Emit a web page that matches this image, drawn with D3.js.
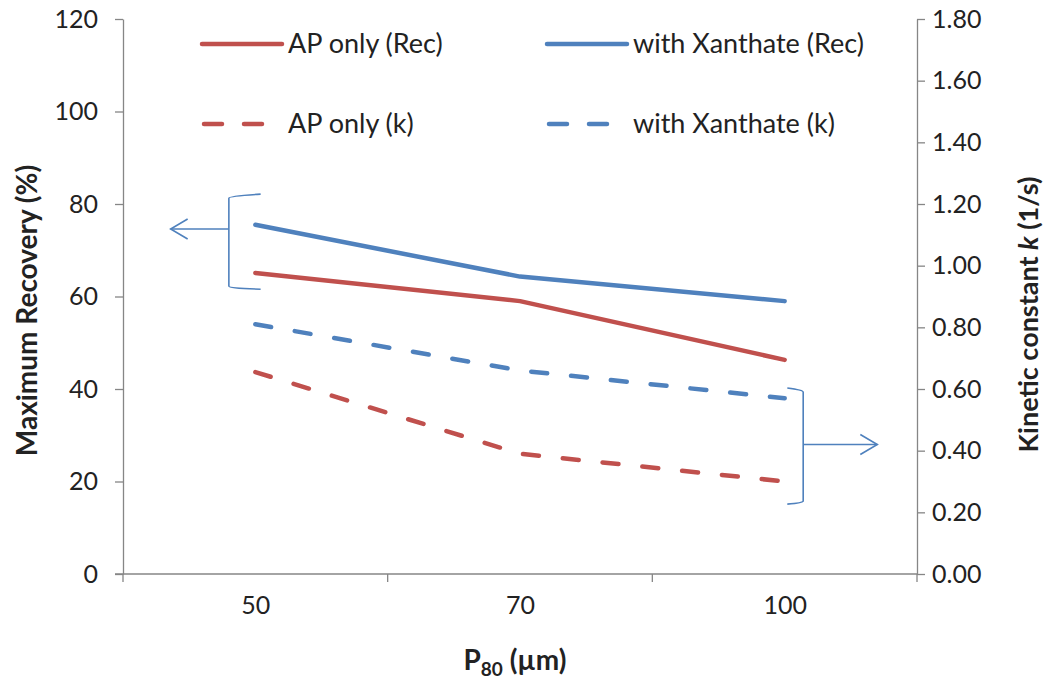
<!DOCTYPE html>
<html>
<head>
<meta charset="utf-8">
<script src="https://cdn.jsdelivr.net/npm/d3@7"></script>
<style>
  body { margin: 0; background: #fff; }
  svg text { font-family: Lato, "Open Sans", sans-serif; fill: #222; }
</style>
</head>
<body>
<div id="chart-container"></div>
<script>
// Data
const sizes = ["50", "70", "100"];
const recApOnly = [65.1, 59.0, 46.3];
const recXanthate = [75.5, 64.3, 59.0];
const kApOnly = [0.655, 0.39, 0.30];
const kXanthate = [0.81, 0.66, 0.57];
const leftTicks = [0, 20, 40, 60, 80, 100, 120];
const rightTicks = [0, 0.2, 0.4, 0.6, 0.8, 1.0, 1.2, 1.4, 1.6, 1.8];

const series = [
  { name: "AP only (Rec)", values: recApOnly, axis: "left", color: "#C0504D", dash: null },
  { name: "with Xanthate (Rec)", values: recXanthate, axis: "left", color: "#4F81BD", dash: null },
  { name: "AP only (k)", values: kApOnly, axis: "right", color: "#C0504D", dash: "16,24" },
  { name: "with Xanthate (k)", values: kXanthate, axis: "right", color: "#4F81BD", dash: "16,24" }
];

function drawChart() {
  const width = 1046, height = 683;
  const plot = { left: 123, right: 917, top: 19, bottom: 574 };
  const axisColor = "#868686";

  const svg = d3.select("#chart-container")
    .append("svg")
    .attr("width", width)
    .attr("height", height);

  // Scales
  const xPoint = d3.scalePoint().domain(sizes).range([plot.left, plot.right]).padding(0.5);
  const xBand = d3.scaleBand().domain(sizes).range([plot.left, plot.right]);
  const xIdx = d3.scaleLinear().domain([-0.5, 2.5]).range([plot.left, plot.right]);
  const yLeft = d3.scaleLinear().domain([0, 120]).range([plot.bottom, plot.top]);
  const yRight = d3.scaleLinear().domain([0, 1.8]).range([plot.bottom, plot.top]);

  // Left axis
  const gl = svg.append("g")
    .attr("transform", "translate(" + plot.left + ",0)")
    .call(d3.axisLeft(yLeft).tickValues(leftTicks).tickSize(8).tickPadding(17).tickSizeOuter(0));
  gl.selectAll("text").style("font-size", "25px");

  // Right axis
  const gr = svg.append("g")
    .attr("transform", "translate(" + plot.right + ",0)")
    .call(d3.axisRight(yRight).tickValues(rightTicks).tickFormat(d3.format(".2f")).tickSize(8).tickPadding(7).tickSizeOuter(0));
  gr.selectAll("text").style("font-size", "25px");

  // Bottom axis: labels at category centres, ticks at category boundaries
  const gb = svg.append("g")
    .attr("transform", "translate(0," + plot.bottom + ")")
    .call(d3.axisBottom(xPoint).tickSize(0).tickPadding(22).tickSizeOuter(0));
  gb.select(".domain").remove();
  gb.selectAll("text").style("font-size", "25px");
  gb.append("line")
    .attr("x1", plot.left - 8).attr("x2", plot.right)
    .attr("stroke", axisColor).attr("stroke-width", 1.3);
  const bounds = sizes.map(s => xBand(s)).concat([xBand(sizes[sizes.length - 1]) + xBand.bandwidth()]);
  gb.selectAll(".btick").data(bounds).enter().append("line")
    .attr("x1", d => d).attr("x2", d => d)
    .attr("y1", 0).attr("y2", 8)
    .attr("stroke", axisColor).attr("stroke-width", 1.3);

  svg.selectAll(".domain, .tick line").attr("stroke", axisColor).attr("stroke-width", 1.3);

  // Lines
  series.forEach(s => {
    const y = s.axis === "left" ? yLeft : yRight;
    const line = d3.line().x((d, i) => xPoint(sizes[i])).y(d => y(d));
    svg.append("path")
      .datum(s.values)
      .attr("d", line)
      .attr("fill", "none")
      .attr("stroke", s.color)
      .attr("stroke-width", 4.5)
      .attr("stroke-linecap", "round")
      .attr("stroke-linejoin", "round")
      .attr("stroke-dasharray", s.dash);
  });

  // Legend
  const legendCols = [202, 547];
  const legendRows = [44, 124];
  series.forEach((s, i) => {
    const lx = legendCols[i % 2], ly = legendRows[Math.floor(i / 2)];
    const g = svg.append("g").attr("transform", "translate(" + lx + "," + ly + ")");
    if (s.dash) {
      g.append("line").attr("x1", 2).attr("x2", 20).attr("stroke", s.color)
        .attr("stroke-width", 4.5).attr("stroke-linecap", "round");
      g.append("line").attr("x1", 42).attr("x2", 60).attr("stroke", s.color)
        .attr("stroke-width", 4.5).attr("stroke-linecap", "round");
    } else {
      g.append("line").attr("x1", 0).attr("x2", 80).attr("stroke", s.color)
        .attr("stroke-width", 4.5).attr("stroke-linecap", "round");
    }
    g.append("text").attr("x", 86).attr("dy", "0.35em")
      .style("font-size", "27px").text(s.name);
  });

  // Bracket annotations
  const annColor = "#4F81BD";
  function bracket(xv, xArm, yTop, yBot, yArrow, xTip, dir) {
    svg.append("path")
      .attr("d", "M" + xArm + "," + (yTop - 2) + " Q" + xv + "," + (yTop) + " " + xv + "," + (yTop + 2) +
        " L" + xv + "," + (yBot - 2) + " Q" + xv + "," + yBot + " " + xArm + "," + (yBot + 1))
      .attr("fill", "none").attr("stroke", annColor).attr("stroke-width", 1.6);
    svg.append("line").attr("x1", xv).attr("x2", xTip).attr("y1", yArrow).attr("y2", yArrow)
      .attr("stroke", annColor).attr("stroke-width", 1.6);
    svg.append("path")
      .attr("d", "M" + (xTip - dir * 17) + "," + (yArrow - 10) + " L" + xTip + "," + yArrow +
        " L" + (xTip - dir * 17) + "," + (yArrow + 10))
      .attr("fill", "none").attr("stroke", annColor).attr("stroke-width", 1.6);
  }
  bracket(xIdx(-0.1), xIdx(0.02), yLeft(81.7), yLeft(61.8), yLeft(74.6), xIdx(-0.32), -1);
  bracket(xIdx(2.07), xIdx(2.01), yRight(0.597), yRight(0.23), yRight(0.42), xIdx(2.35), 1);

  // Axis titles
  const midY = (plot.top + plot.bottom) / 2;
  svg.append("text")
    .attr("transform", "translate(37," + (midY + 14) + ") rotate(-90)")
    .attr("text-anchor", "middle")
    .style("font-size", "28px").style("font-weight", "bold")
    .text("Maximum Recovery (%)");

  const rt = svg.append("text")
    .attr("transform", "translate(1038," + (midY + 18) + ") rotate(-90)")
    .attr("text-anchor", "middle")
    .style("font-size", "27px").style("font-weight", "bold");
  rt.append("tspan").text("Kinetic constant ");
  rt.append("tspan").style("font-style", "italic").text("k");
  rt.append("tspan").text(" (1/s)");

  const bt = svg.append("text")
    .attr("x", (plot.left + plot.right) / 2 - 5).attr("y", 670)
    .attr("text-anchor", "middle")
    .style("font-size", "28px").style("font-weight", "bold");
  bt.append("tspan").text("P");
  bt.append("tspan").attr("dy", 6).style("font-size", "19px").text("80");
  bt.append("tspan").attr("dy", -6).text(" (µm)");
}

document.addEventListener("DOMContentLoaded", drawChart);
</script>
</body>
</html>
